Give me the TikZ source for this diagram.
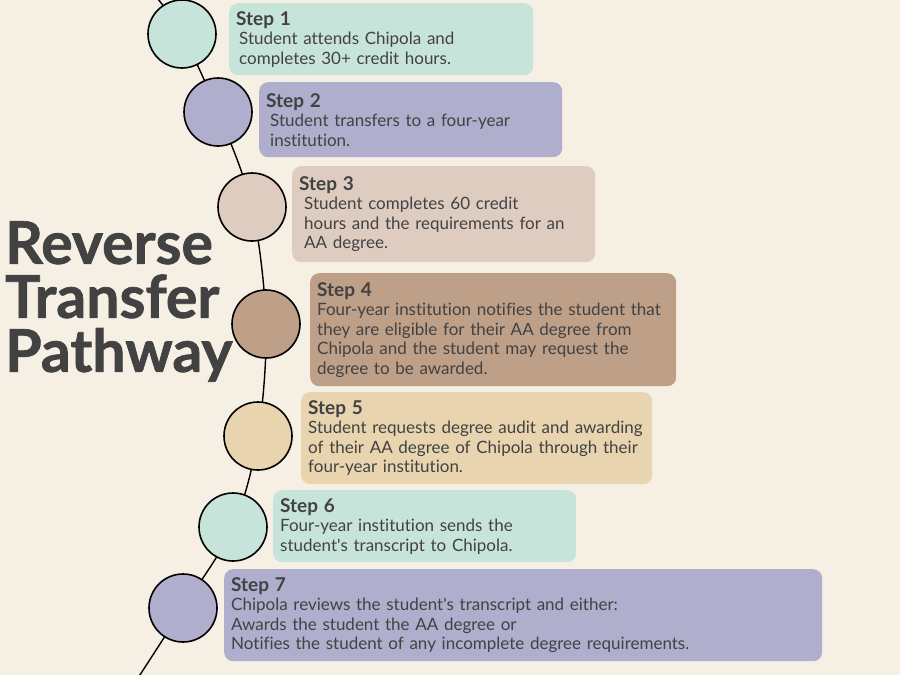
\documentclass[tikz,border=0pt]{standalone}
\usepackage{fontspec}
\setmainfont{Lato}[Ligatures=NoCommon]
\newfontfamily\titlefont{Lato}[BoldFeatures={FakeBold=1.2}]
\usetikzlibrary{positioning}
\definecolor{pageBg}{HTML}{F6F0E4}
\definecolor{stepMint}{HTML}{C7E4DA}
\definecolor{stepLav}{HTML}{B0AECD}
\definecolor{stepRose}{HTML}{DFCCC1}
\definecolor{stepBrown}{HTML}{BE9F87}
\definecolor{stepSand}{HTML}{E8D5AF}
\definecolor{inkGrey}{HTML}{424242}

\tikzset{
  stepdot/.style={circle, draw=black, line width=1.6pt, minimum size=68pt, inner sep=0pt},
  stepbox/.style={rounded corners=9pt, anchor=north west, inner xsep=7pt, inner ysep=0pt,
                  align=left, text=inkGrey, font=\fontsize{17}{19.5}\selectfont},
}

\begin{document}
\begin{tikzpicture}[x=1pt,y=-1pt]
\useasboundingbox (0,0) rectangle (900,675);
\fill[pageBg] (0,0) rectangle (900,675);

% circle centres along the pathway
\foreach \cx/\cy [count=\i] in {182/34, 218/112, 252/207, 266/324, 258/436, 233/527, 183/608}
  \coordinate (c\i) at (\cx,\cy);
\coordinate (pathTop) at (154,-6);
\coordinate (pathEnd) at (136,681);

\draw[line width=1.4pt] plot[smooth, tension=0.55]
  coordinates {(pathTop) (c1) (c2) (c3) (c4) (c5) (c6) (c7) (pathEnd)};

% steps: dot + text box
\foreach \col/\bx/\by/\bw/\bh/\body [count=\i, evaluate=\bw as \tw using \bw-14] in {%
  stepMint/229/3/304/72/{\hspace*{3pt}Student attends Chipola and\\\hspace*{3pt}completes 30+ credit hours.},%
  stepLav/259/82/303/75/{\hspace*{4pt}Student transfers to a four-year\\\hspace*{4pt}institution.},%
  stepRose/292/166/303/96/{\hspace*{5pt}Student completes 60 credit\\\hspace*{5pt}hours and the requirements for an\\\hspace*{5pt}AA degree.},%
  stepBrown/310/273/366/113/{Four-year institution notifies the student that\\they are eligible for their AA degree from\\Chipola and the student may request the\\degree to be awarded.},%
  stepSand/301/392/351/92/{Student requests degree audit and awarding\\of their AA degree of Chipola through their\\four-year institution.},%
  stepMint/273/490/303/72/{Four-year institution sends the\\student\textquotesingle s transcript to Chipola.},%
  stepLav/224/569/598/92/{Chipola reviews the student\textquotesingle s transcript and either:\\Awards the student the AA degree or\\Notifies the student of any incomplete degree requirements.}%
}
{
  \node[stepdot, fill=\col] (dot\i) at (c\i) {};
  \node[stepbox, fill=\col, minimum width=\bw pt, minimum height=\bh pt, text width=\tw pt]
    (box\i) at (\bx,\by)
    {{\fontsize{19}{20}\selectfont\bfseries Step \i}\\\body};
}

% title
\node[anchor=north west, inner sep=0pt, align=left, text=inkGrey,
      font=\titlefont\fontsize{59}{54}\selectfont\bfseries]
  (title) at (5,221) {Reverse\\Transfer\\Pathway};

\end{tikzpicture}
\end{document}
